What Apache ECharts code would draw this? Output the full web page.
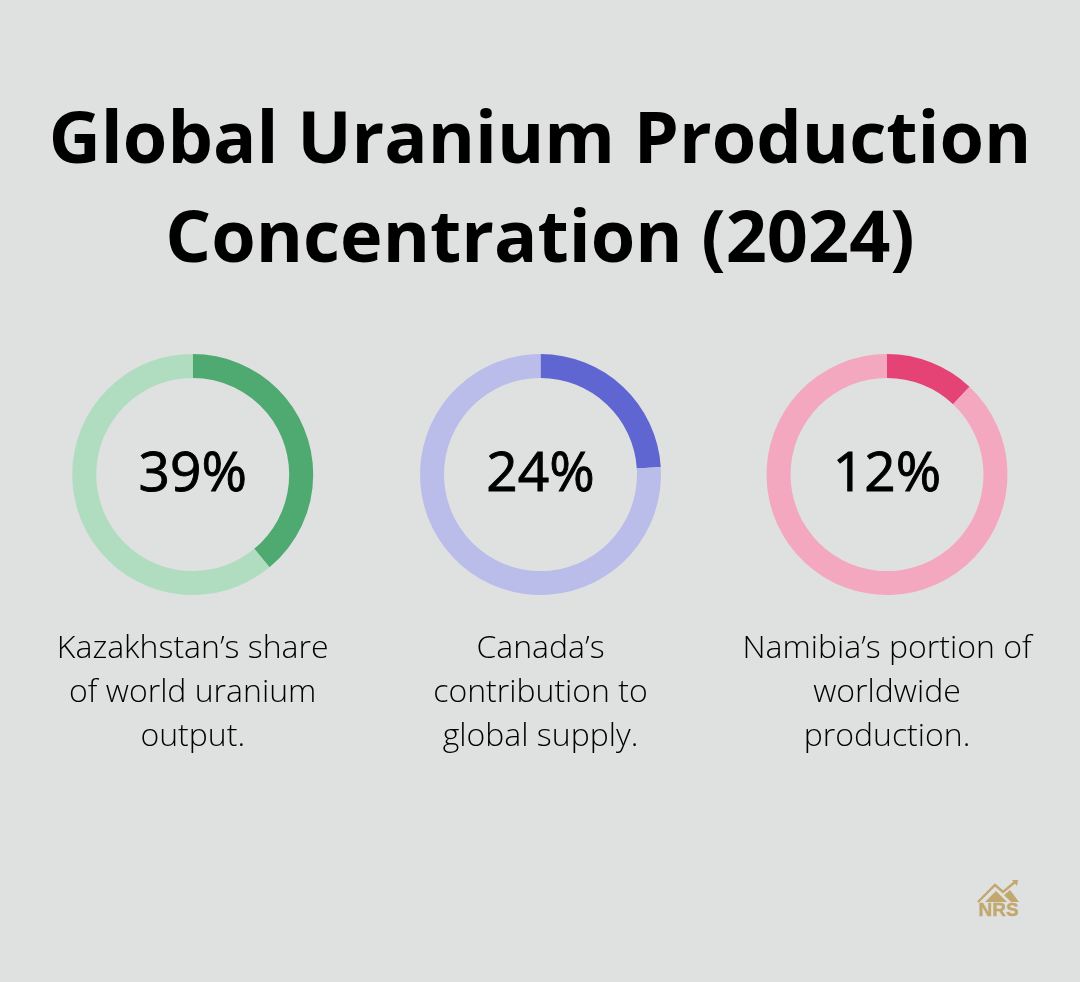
<!DOCTYPE html>
<html><head><meta charset="utf-8">
<style>html,body{margin:0;padding:0;background:#dfe1e0}#c{width:1080px;height:982px}</style>
<script src="https://cdn.jsdelivr.net/npm/echarts@6/dist/echarts.min.js"></script>
</head><body><div id="c"></div>
<script>
const titleLines = ['Global Uranium Production', 'Concentration (2024)'];
const shares = [39, 24, 12];
const valueLabels = ['39%', '24%', '12%'];
const captions = [
  ['Kazakhstan’s share', 'of world uranium', 'output.'],
  ['Canada’s', 'contribution to', 'global supply.'],
  ['Namibia’s portion of', 'worldwide', 'production.']
];
const strongColors = ['#4eaa70', '#5f66d1', '#e54376'];
const lightColors = ['#b0dcc0', '#babdea', '#f3a8c0'];
const centersX = [192.7, 540.5, 887];
const centerY = 474.5;
const FONT = '"Open Sans"';

const chart = echarts.init(document.getElementById('c'), null, {renderer: 'canvas'});
const series = shares.map((v, i) => ({
  type: 'pie',
  center: [centersX[i], centerY],
  radius: [96.5, 120.5],
  startAngle: 90,
  clockwise: true,
  silent: true,
  label: {show: false},
  labelLine: {show: false},
  itemStyle: {borderWidth: 0},
  data: [
    {value: v, itemStyle: {color: strongColors[i]}},
    {value: 100 - v, itemStyle: {color: lightColors[i]}}
  ]
}));
const texts = [];
titleLines.forEach((t, i) => texts.push({
  type: 'text', x: 540, y: 142 + i * 99,
  style: {text: t, x: 0, y: 0, align: 'center', verticalAlign: 'middle',
    font: '700 72px ' + FONT, fill: '#000'}
}));
valueLabels.forEach((t, i) => texts.push({
  type: 'text', x: centersX[i], y: 475,
  style: {text: t, align: 'center', verticalAlign: 'middle',
    font: '400 55px ' + FONT, fill: '#000', stroke: '#000', lineWidth: 0.9}
}));
captions.forEach((lines, i) => lines.forEach((t, j) => texts.push({
  type: 'text', x: centersX[i], y: 649 + j * 44,
  style: {text: t, align: 'center', verticalAlign: 'middle',
    font: '300 32px ' + FONT, fill: '#000'}
})));
const gold = '#c2a86f';
const logo = [
  {type: 'polyline', shape: {points: [[978,902],[995,885],[1003,892],[1015,882]]}, style: {stroke: gold, fill: 'none', lineWidth: 2.4}},
  {type: 'polygon', shape: {points: [[1012,880],[1018,880],[1017,886]]}, style: {fill: gold}},
  {type: 'polygon', shape: {points: [[985,902],[996,891],[1007,902]]}, style: {fill: gold}},
  {type: 'polygon', shape: {points: [[1004,895],[1010,890],[1019,902],[1011,902]]}, style: {fill: gold}},
  {type: 'text', x: 998.5, y: 911, style: {text: 'NRS', align: 'center', verticalAlign: 'middle', font: '700 19px "Liberation Sans"', fill: gold, stroke: gold, lineWidth: 0.4}}
];
chart.setOption({
  backgroundColor: '#dfe1e0',
  animation: false,
  series,
  graphic: {elements: texts.concat(logo)}
});
</script></body></html>
